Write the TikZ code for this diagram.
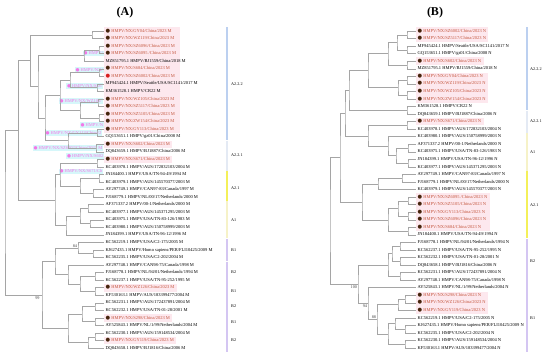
\documentclass[tikz,border=0pt]{standalone}
\usepackage{fontspec}
\setmainfont{Liberation Serif}
\newfontfamily\dotfont{DejaVu Sans}
\usetikzlibrary{positioning}

\definecolor{treegray}{RGB}{165,165,165}
\definecolor{nxred}{RGB}{196,86,62}
\definecolor{dotbrown}{RGB}{70,36,12}
\definecolor{dotred}{RGB}{215,30,30}
\definecolor{hlpink}{RGB}{253,232,238}
\definecolor{ghcyan}{RGB}{214,247,250}
\definecolor{ghpink}{RGB}{242,120,232}
\definecolor{barblue}{RGB}{188,208,240}
\definecolor{barpale}{RGB}{228,234,244}
\definecolor{baryellow}{RGB}{244,240,90}
\definecolor{barcream}{RGB}{246,242,200}
\definecolor{barlilac}{RGB}{212,198,242}

\newcommand{\nxdot}[1][dotbrown]{{\dotfont\fontsize{5.2}{5}\selectfont\textcolor{#1}{●}}\hspace{1.3pt}}
\newcommand{\ghdot}{{\dotfont\fontsize{4.6}{5}\selectfont●}\hspace{1pt}}

\tikzset{
  branch/.style={draw=treegray, line width=0.5pt},
  leaf/.style={anchor=west, inner xsep=1.3pt, inner ysep=0pt, text height=3.2pt, text depth=1pt, font=\fontsize{4.5}{5}\selectfont},
  nx/.style={leaf, text=nxred},
  ghost/.style={anchor=west, fill=ghcyan, text=ghpink, inner xsep=1pt, inner ysep=0.9pt, font=\fontsize{4.5}{5}\selectfont},
  clade/.style={anchor=west, inner sep=0pt, font=\fontsize{4.2}{5}\selectfont},
  boot/.style={inner sep=0.8pt, font=\fontsize{4.2}{5}\selectfont, text=black!75},
  bar/.style={line width=1.2pt},
  panel/.style={font=\fontsize{12}{14}\selectfont\bfseries}
}

\begin{document}
\begin{tikzpicture}[x=1pt,y=-1pt]
\useasboundingbox (0,0) rectangle (550,359);

\fill[hlpink] (104,27.2) rectangle (180,132.9);
\fill[hlpink] (104,140.5) rectangle (172,148.0);
\fill[hlpink] (104,155.6) rectangle (172,163.1);
\fill[hlpink] (104,283.9) rectangle (177,291.5);
\fill[hlpink] (104,314.1) rectangle (172,321.7);
\fill[hlpink] (104,336.8) rectangle (176,344.3);

\fill[hlpink] (416,27.2) rectangle (488,42.3);
\fill[hlpink] (416,57.4) rectangle (484,65.0);
\fill[hlpink] (416,72.5) rectangle (488,102.7);
\fill[hlpink] (416,117.8) rectangle (484,125.4);
\fill[hlpink] (416,193.3) rectangle (490,231.1);
\fill[hlpink] (416,291.5) rectangle (488,314.1);

\node[ghost] (g1) at (82.5,53.6) {\ghdot HMPV/};
\node[ghost] (g2) at (74.5,70) {\ghdot HMPV/NX/};
\node[ghost] (g3) at (66,86) {\ghdot HMPV/NX/SZ6};
\node[ghost] (g4) at (58.5,101) {\ghdot HMPV/NX/WZ105/};
\node[ghost] (g5) at (79.5,125) {\ghdot HMPV/N};
\node[ghost] (g6) at (44.5,133) {\ghdot HMPV/NX/GY113/China/2};
\node[ghost] (g7) at (32.5,148) {\ghdot HMPV/NX/SZ6002/China/2023 M};
\node[ghost] (g8) at (66,156) {\ghdot HMPV/NX/S602};
\node[ghost] (g9) at (58.5,171.7) {\ghdot HMPV/NX/S671/Ch};

\node[panel] (ttlA) at (125,13) {(A)};
\node[panel] (ttlB) at (435,13) {(B)};

\node[nx] (la1) at (104,31.00) {\nxdot HMPV/NX/GY04/China/2023 M};
\node[nx] (la2) at (104,38.55) {\nxdot HMPV/NX/WZ119/China/2023 M};
\node[nx] (la3) at (104,46.10) {\nxdot HMPV/NX/SZ6096/China/2023 M};
\node[nx] (la4) at (104,53.65) {\nxdot HMPV/NX/SZ6095 /China/2023 M};
\node[leaf] (la5) at (104,61.20) {MZ851795.1 HMPV/BJ1559/China/2018 M};
\node[nx] (la6) at (104,68.75) {\nxdot HMPV/NX/S684/China/2023 M};
\node[nx] (la7) at (104,76.30) {\nxdot[dotred]HMPV/NX/SZ6002/China/2023 M};
\node[leaf] (la8) at (104,83.85) {MF945424.1 HMPV/Seattle/USA/SC1141/2017 M};
\node[leaf] (la9) at (104,91.40) {KM361528.1 HMPV/CR22 M};
\node[nx] (la10) at (104,98.95) {\nxdot HMPV/NX/WZ105/China/2023 M};
\node[nx] (la11) at (104,106.50) {\nxdot HMPV/NX/SZ5117/China/2023 M};
\node[nx] (la12) at (104,114.05) {\nxdot HMPV/NX/SZ5105/China/2023 M};
\node[nx] (la13) at (104,121.60) {\nxdot HMPV/NX/ZW154/China/2023 M};
\node[nx] (la14) at (104,129.15) {\nxdot HMPV/NX/GY113/China/2023 M};
\node[leaf] (la15) at (104,136.70) {GQ153651.1 HMPV/gz01/China/2008 M};
\node[nx] (la16) at (104,144.25) {\nxdot HMPV/NX/S602/China/2023 M};
\node[leaf] (la17) at (104,151.80) {DQ843659.1 HMPV/BJ1887/China/2006 M};
\node[nx] (la18) at (104,159.35) {\nxdot HMPV/NX/S671/China/2023 M};
\node[leaf] (la19) at (104,166.90) {KC403978.1 HMPV/AUS/172832103/2004 M};
\node[leaf] (la20) at (104,174.45) {JN184400.1 HMPV/USA/TN-94-49/1994 M};
\node[leaf] (la21) at (104,182.00) {KC403979.1 HMPV/AUS/145570377/2003 M};
\node[leaf] (la22) at (104,189.55) {AY297749.1 HMPV/CAN97-83/Canada/1997 M};
\node[leaf] (la23) at (104,197.10) {FJ168779.1 HMPV/NL/00/17/Netherlands/2000 M};
\node[leaf] (la24) at (104,204.65) {AF371337.2 HMPV/00-1/Netherlands/2000 M};
\node[leaf] (la25) at (104,212.20) {KC403977.1 HMPV/AUS/145371295/2003 M};
\node[leaf] (la26) at (104,219.75) {KC403975.1 HMPV/USA/TN-83-126/1983 M};
\node[leaf] (la27) at (104,227.30) {KC403980.1 HMPV/AUS/150758999/2003 M};
\node[leaf] (la28) at (104,234.85) {JN184399.1 HMPV/USA/TN-96-12/1996 M};
\node[leaf] (la29) at (104,242.40) {KC562219.1 HMPV/USA/C2-175/2005 M};
\node[leaf] (la30) at (104,249.95) {KJ627435.1 HMPV/Homo sapiens/PER/FLI10425/2009 M};
\node[leaf] (la31) at (104,257.50) {KC562235.1 HMPV/USA/C2-202/2004 M};
\node[leaf] (la32) at (104,265.05) {AY297748.1 HMPV/CAN98-75/Canada/1998 M};
\node[leaf] (la33) at (104,272.60) {FJ168778.1 HMPV/NL/94/01/Netherlands/1994 M};
\node[leaf] (la34) at (104,280.15) {KC562237.1 HMPV/USA/TN-95-252/1995 M};
\node[nx] (la35) at (104,287.70) {\nxdot HMPV/NX/WZ126/China/2023 M};
\node[leaf] (la36) at (104,295.25) {KF530163.1 HMPV/AUS/183399477/2004 M};
\node[leaf] (la37) at (104,302.80) {KC562231.1 HMPV/AUS/172437891/2004 M};
\node[leaf] (la38) at (104,310.35) {KC562232.1 HMPV/USA/TN-01-28/2001 M};
\node[nx] (la39) at (104,317.90) {\nxdot HMPV/NX/S298/China/2023 M};
\node[leaf] (la40) at (104,325.45) {AY525843.1 HMPV/NL/1/99/Netherlands/2004 M};
\node[leaf] (la41) at (104,333.00) {KC562230.1 HMPV/AUS/159148534/2004 M};
\node[nx] (la42) at (104,340.55) {\nxdot HMPV/NX/GY119/China/2023 M};
\node[leaf] (la43) at (104,348.10) {DQ843658.1 HMPV/BJ1816/China/2006 M};

\coordinate (a12) at (92,34.78);
\coordinate (a34) at (99,49.88);
\coordinate (a35) at (84,55.54);
\coordinate (a67) at (99,72.53);
\coordinate (a89) at (97,87.63);
\coordinate (a69) at (70,80.08);
\coordinate (a1011) at (98,102.73);
\coordinate (a1213) at (99,117.83);
\coordinate (a1013) at (80,110.28);
\coordinate (a613) at (60,95.18);
\coordinate (a1415) at (97,132.93);
\coordinate (a1617) at (96,148.03);
\coordinate (a1417) at (68,140.48);
\coordinate (a617) at (45,117.83);
\coordinate (a317) at (38,86.69);
\coordinate (a117) at (30.7,60.74);
\coordinate (a1819) at (97,163.13);
\coordinate (a2021) at (99,178.23);
\coordinate (a2223) at (93,193.33);
\coordinate (a2023) at (80,185.78);
\coordinate (a1823) at (60,174.46);
\coordinate (a2425) at (88,208.43);
\coordinate (a2627) at (90,223.53);
\coordinate (a2427) at (80,215.98);
\coordinate (a2428) at (66,225.42);
\coordinate (a1828) at (55,199.94);
\coordinate (a128) at (18.3,130.34);
\coordinate (a3031) at (93,253.73);
\coordinate (a2931) at (78,248.07);
\coordinate (a3334) at (95,276.38);
\coordinate (a3536) at (95,291.48);
\coordinate (a3336) at (80,283.93);
\coordinate (a3236) at (68,274.49);
\coordinate (a2936) at (55,261.28);
\coordinate (a3738) at (95,306.58);
\coordinate (a3940) at (95,321.68);
\coordinate (a3740) at (82,314.13);
\coordinate (a4142) at (95,336.78);
\coordinate (a4143) at (88,342.44);
\coordinate (a3743) at (68,328.29);
\coordinate (a2943) at (42,294.79);
\coordinate (aroot) at (5,212.57);

\draw[branch] (la1.west) -| (a12) |- (la2.west);
\draw[branch] (la3.west) -| (a34) |- (la4.west);
\draw[branch] (a34) -| (a35) |- (la5.west);
\draw[branch] (la6.west) -| (a67) |- (la7.west);
\draw[branch] (la8.west) -| (a89) |- (la9.west);
\draw[branch] (a67) -| (a69) |- (a89);
\draw[branch] (la10.west) -| (a1011) |- (la11.west);
\draw[branch] (la12.west) -| (a1213) |- (la13.west);
\draw[branch] (a1011) -| (a1013) |- (a1213);
\draw[branch] (a69) -| (a613) |- (a1013);
\draw[branch] (la14.west) -| (a1415) |- (la15.west);
\draw[branch] (la16.west) -| (a1617) |- (la17.west);
\draw[branch] (a1415) -| (a1417) |- (a1617);
\draw[branch] (a613) -| (a617) |- (a1417);
\draw[branch] (a35) -| (a317) |- (a617);
\draw[branch] (a12) -| (a117) |- (a317);
\draw[branch] (la18.west) -| (a1819) |- (la19.west);
\draw[branch] (la20.west) -| (a2021) |- (la21.west);
\draw[branch] (la22.west) -| (a2223) |- (la23.west);
\draw[branch] (a2021) -| (a2023) |- (a2223);
\draw[branch] (a1819) -| (a1823) |- (a2023);
\draw[branch] (la24.west) -| (a2425) |- (la25.west);
\draw[branch] (la26.west) -| (a2627) |- (la27.west);
\draw[branch] (a2425) -| (a2427) |- (a2627);
\draw[branch] (a2427) -| (a2428) |- (la28.west);
\draw[branch] (a1823) -| (a1828) |- (a2428);
\draw[branch] (a117) -| (a128) |- (a1828);
\draw[branch] (la30.west) -| (a3031) |- (la31.west);
\draw[branch] (la29.west) -| (a2931) |- (a3031);
\draw[branch] (la33.west) -| (a3334) |- (la34.west);
\draw[branch] (la35.west) -| (a3536) |- (la36.west);
\draw[branch] (a3334) -| (a3336) |- (a3536);
\draw[branch] (la32.west) -| (a3236) |- (a3336);
\draw[branch] (a2931) -| (a2936) |- (a3236);
\draw[branch] (la37.west) -| (a3738) |- (la38.west);
\draw[branch] (la39.west) -| (a3940) |- (la40.west);
\draw[branch] (a3738) -| (a3740) |- (a3940);
\draw[branch] (la41.west) -| (a4142) |- (la42.west);
\draw[branch] (a4142) -| (a4143) |- (la43.west);
\draw[branch] (a3740) -| (a3743) |- (a4143);
\draw[branch] (a2936) -| (a2943) |- (a3743);
\draw[branch] (a128) -| (aroot) |- (a2943);

\node[boot, above left] (bs84) at (a2931) {84};
\node[boot, below left=2pt] (bs99) at (a2943) {99};

\draw[bar,barblue] (227,27.2) -- (227,140.3);
\draw[bar,barpale] (227,140.7) -- (227,170.5);
\draw[bar,baryellow] (227,170.9) -- (227,200.7);
\draw[bar,barcream] (227,201.1) -- (227,238.4);
\draw[bar,barlilac] (227,238.8) -- (227,261.1);
\draw[bar,barlilac] (227,261.5) -- (227,283.7);
\draw[bar,barlilac] (227,284.1) -- (227,298.8);
\draw[bar,barlilac] (227,299.2) -- (227,313.9);
\draw[bar,barlilac] (227,314.3) -- (227,329.0);
\draw[bar,barlilac] (227,329.4) -- (227,351.9);

\node[clade] (ca1) at (231,83.9) {A2.2.2};
\node[clade] (ca2) at (231,155.6) {A2.2.1};
\node[clade] (ca3) at (231,188) {A2.1};
\node[clade] (ca4) at (231,219.8) {A1};
\node[clade] (ca5) at (231,250.2) {B1};
\node[clade] (ca6) at (231,272.6) {B2};
\node[clade] (ca7) at (231,291.5) {B1};
\node[clade] (ca8) at (231,306.6) {B2};
\node[clade] (ca9) at (231,321.7) {B1};
\node[clade] (ca10) at (231,340.6) {B2};

\node[nx] (lb1) at (416,31.00) {\nxdot HMPV/NX/SZ6002/China/2023 N};
\node[nx] (lb2) at (416,38.55) {\nxdot HMPV/NX/SZ5117/China/2023 N};
\node[leaf] (lb3) at (416,46.10) {MF945424.1 HMPV/Seattle/USA/SC1141/2017 N};
\node[leaf] (lb4) at (416,53.65) {GQ153651.1 HMPV/gz01/China/2008 N};
\node[nx] (lb5) at (416,61.20) {\nxdot HMPV/NX/S602/China/2023 N};
\node[leaf] (lb6) at (416,68.75) {MZ851795.1 HMPV/BJ1559/China/2018 N};
\node[nx] (lb7) at (416,76.30) {\nxdot HMPV/NX/GY04/China/2023 N};
\node[nx] (lb8) at (416,83.85) {\nxdot HMPV/NX/WZ119/China/2023 N};
\node[nx] (lb9) at (416,91.40) {\nxdot HMPV/NX/WZ105/China/2023 N};
\node[nx] (lb10) at (416,98.95) {\nxdot HMPV/NX/ZW154/China/2023 N};
\node[leaf] (lb11) at (416,106.50) {KM361528.1 HMPV/CR22 N};
\node[leaf] (lb12) at (416,114.05) {DQ843659.1 HMPV/BJ1887/China/2006 N};
\node[nx] (lb13) at (416,121.60) {\nxdot HMPV/NX/S671/China/2023 N};
\node[leaf] (lb14) at (416,129.15) {KC403978.1 HMPV/AUS/172832103/2004 N};
\node[leaf] (lb15) at (416,136.70) {KC403980.1 HMPV/AUS/150758999/2003 N};
\node[leaf] (lb16) at (416,144.25) {AF371337.2 HMPV/00-1/Netherlands/2000 N};
\node[leaf] (lb17) at (416,151.80) {KC403975.1 HMPV/USA/TN-83-126/1983 N};
\node[leaf] (lb18) at (416,159.35) {JN184399.1 HMPV/USA/TN-96-12/1996 N};
\node[leaf] (lb19) at (416,166.90) {KC403977.1 HMPV/AUS/145371295/2003 N};
\node[leaf] (lb20) at (416,174.45) {AY297749.1 HMPV/CAN97-83/Canada/1997 N};
\node[leaf] (lb21) at (416,182.00) {FJ168779.1 HMPV/NL/00/17/Netherlands/2000 N};
\node[leaf] (lb22) at (416,189.55) {KC403979.1 HMPV/AUS/145570377/2003 N};
\node[nx] (lb23) at (416,197.10) {\nxdot HMPV/NX/SZ6095 /China/2023 N};
\node[nx] (lb24) at (416,204.65) {\nxdot HMPV/NX/SZ5105/China/2023 N};
\node[nx] (lb25) at (416,212.20) {\nxdot HMPV/NX/GY113/China/2023 N};
\node[nx] (lb26) at (416,219.75) {\nxdot HMPV/NX/SZ6096/China/2023 N};
\node[nx] (lb27) at (416,227.30) {\nxdot HMPV/NX/S684/China/2023 N};
\node[leaf] (lb28) at (416,234.85) {JN184400.1 HMPV/USA/TN-94-49/1994 N};
\node[leaf] (lb29) at (416,242.40) {FJ168778.1 HMPV/NL/94/01/Netherlands/1994 N};
\node[leaf] (lb30) at (416,249.95) {KC562237.1 HMPV/USA/TN-95-252/1995 N};
\node[leaf] (lb31) at (416,257.50) {KC562232.1 HMPV/USA/TN-01-28/2001 N};
\node[leaf] (lb32) at (416,265.05) {DQ843658.1 HMPV/BJ1816/China/2006 N};
\node[leaf] (lb33) at (416,272.60) {KC562231.1 HMPV/AUS/172437891/2004 N};
\node[leaf] (lb34) at (416,280.15) {AY297748.1 HMPV/CAN98-75/Canada/1998 N};
\node[leaf] (lb35) at (416,287.70) {AY525843.1 HMPV/NL/1/99/Netherlands/2004 N};
\node[nx] (lb36) at (416,295.25) {\nxdot HMPV/NX/S298/China/2023 N};
\node[nx] (lb37) at (416,302.80) {\nxdot HMPV/NX/WZ126/China/2023 N};
\node[nx] (lb38) at (416,310.35) {\nxdot HMPV/NX/GY119/China/2023 N};
\node[leaf] (lb39) at (416,317.90) {KC562219.1 HMPV/USA/C2-175/2005 N};
\node[leaf] (lb40) at (416,325.45) {KJ627435.1 HMPV/Homo sapiens/PER/FLI10425/2009 N};
\node[leaf] (lb41) at (416,333.00) {KC562235.1 HMPV/USA/C2-202/2004 N};
\node[leaf] (lb42) at (416,340.55) {KC562230.1 HMPV/AUS/159148534/2004 N};
\node[leaf] (lb43) at (416,348.10) {KF530163.1 HMPV/AUS/183399477/2004 N};

\coordinate (q12) at (407,34.78);
\coordinate (q34) at (407,49.88);
\coordinate (q14) at (397,42.33);
\coordinate (q56) at (407,64.98);
\coordinate (q16) at (388,53.66);
\coordinate (q78) at (407,80.08);
\coordinate (q910) at (407,95.18);
\coordinate (q710) at (398,87.63);
\coordinate (q110) at (368,70.65);
\coordinate (q1112) at (407,110.28);
\coordinate (q112) at (349,90.47);
\coordinate (q1314) at (407,125.38);
\coordinate (q1617) at (408,148.03);
\coordinate (q1819) at (408,163.13);
\coordinate (q1619) at (396,155.58);
\coordinate (q1519) at (388,146.14);
\coordinate (q1319) at (368,135.76);
\coordinate (q119) at (345,113.12);
\coordinate (q2021) at (402,178.23);
\coordinate (q2022) at (378,183.89);
\coordinate (q2324) at (408,200.88);
\coordinate (q2526) at (408,215.98);
\coordinate (q2326) at (398,208.43);
\coordinate (q2728) at (408,231.08);
\coordinate (q2328) at (388,219.76);
\coordinate (q2028) at (362,201.83);
\coordinate (q128) at (340,157.48);
\coordinate (q2930) at (400,246.18);
\coordinate (q3132) at (400,261.28);
\coordinate (q2932) at (392,253.73);
\coordinate (q3334) at (400,276.38);
\coordinate (q2934) at (388,265.06);
\coordinate (q3637) at (405,299.03);
\coordinate (q3638) at (398,304.69);
\coordinate (q4041) at (405,329.23);
\coordinate (q3941) at (395,323.57);
\coordinate (q4243) at (405,344.33);
\coordinate (q3943) at (388,333.95);
\coordinate (q3643) at (377,319.32);
\coordinate (q3543) at (368,303.51);
\coordinate (q2943) at (358,284.29);
\coordinate (qroot) at (330,220.89);

\draw[branch] (lb1.west) -| (q12) |- (lb2.west);
\draw[branch] (lb3.west) -| (q34) |- (lb4.west);
\draw[branch] (q12) -| (q14) |- (q34);
\draw[branch] (lb5.west) -| (q56) |- (lb6.west);
\draw[branch] (q14) -| (q16) |- (q56);
\draw[branch] (lb7.west) -| (q78) |- (lb8.west);
\draw[branch] (lb9.west) -| (q910) |- (lb10.west);
\draw[branch] (q78) -| (q710) |- (q910);
\draw[branch] (q16) -| (q110) |- (q710);
\draw[branch] (lb11.west) -| (q1112) |- (lb12.west);
\draw[branch] (q110) -| (q112) |- (q1112);
\draw[branch] (lb13.west) -| (q1314) |- (lb14.west);
\draw[branch] (lb16.west) -| (q1617) |- (lb17.west);
\draw[branch] (lb18.west) -| (q1819) |- (lb19.west);
\draw[branch] (q1617) -| (q1619) |- (q1819);
\draw[branch] (lb15.west) -| (q1519) |- (q1619);
\draw[branch] (q1314) -| (q1319) |- (q1519);
\draw[branch] (q112) -| (q119) |- (q1319);
\draw[branch] (lb20.west) -| (q2021) |- (lb21.west);
\draw[branch] (q2021) -| (q2022) |- (lb22.west);
\draw[branch] (lb23.west) -| (q2324) |- (lb24.west);
\draw[branch] (lb25.west) -| (q2526) |- (lb26.west);
\draw[branch] (q2324) -| (q2326) |- (q2526);
\draw[branch] (lb27.west) -| (q2728) |- (lb28.west);
\draw[branch] (q2326) -| (q2328) |- (q2728);
\draw[branch] (q2022) -| (q2028) |- (q2328);
\draw[branch] (q119) -| (q128) |- (q2028);
\draw[branch] (lb29.west) -| (q2930) |- (lb30.west);
\draw[branch] (lb31.west) -| (q3132) |- (lb32.west);
\draw[branch] (q2930) -| (q2932) |- (q3132);
\draw[branch] (lb33.west) -| (q3334) |- (lb34.west);
\draw[branch] (q2932) -| (q2934) |- (q3334);
\draw[branch] (lb36.west) -| (q3637) |- (lb37.west);
\draw[branch] (q3637) -| (q3638) |- (lb38.west);
\draw[branch] (lb40.west) -| (q4041) |- (lb41.west);
\draw[branch] (lb39.west) -| (q3941) |- (q4041);
\draw[branch] (lb42.west) -| (q4243) |- (lb43.west);
\draw[branch] (q3941) -| (q3943) |- (q4243);
\draw[branch] (q3638) -| (q3643) |- (q3943);
\draw[branch] (lb35.west) -| (q3543) |- (q3643);
\draw[branch] (q2934) -| (q2943) |- (q3543);
\draw[branch] (q128) -| (qroot) |- (q2943);

\node[boot, below left] (bs100) at (q2943) {100};
\node[boot, below left] (bs94) at (q3543) {94};
\node[boot, above left] (bs88) at (q3643) {88};

\draw[bar,barblue] (527,27.2) -- (527,110.1);
\draw[bar,barpale] (527,110.5) -- (527,132.7);
\draw[bar,barcream] (527,133.1) -- (527,170.5);
\draw[bar,baryellow] (527,170.9) -- (527,238.4);
\draw[bar,barlilac] (527,238.8) -- (527,283.7);
\draw[bar,barlilac] (527,284.1) -- (527,351.9);

\node[clade] (cb1) at (530,68.8) {A2.2.2};
\node[clade] (cb2) at (530,121.6) {A2.2.1};
\node[clade] (cb3) at (530,151.8) {A1};
\node[clade] (cb4) at (530,204.7) {A2.1};
\node[clade] (cb5) at (530,261.3) {B2};
\node[clade] (cb6) at (530,318) {B1};
\end{tikzpicture}
\end{document}
